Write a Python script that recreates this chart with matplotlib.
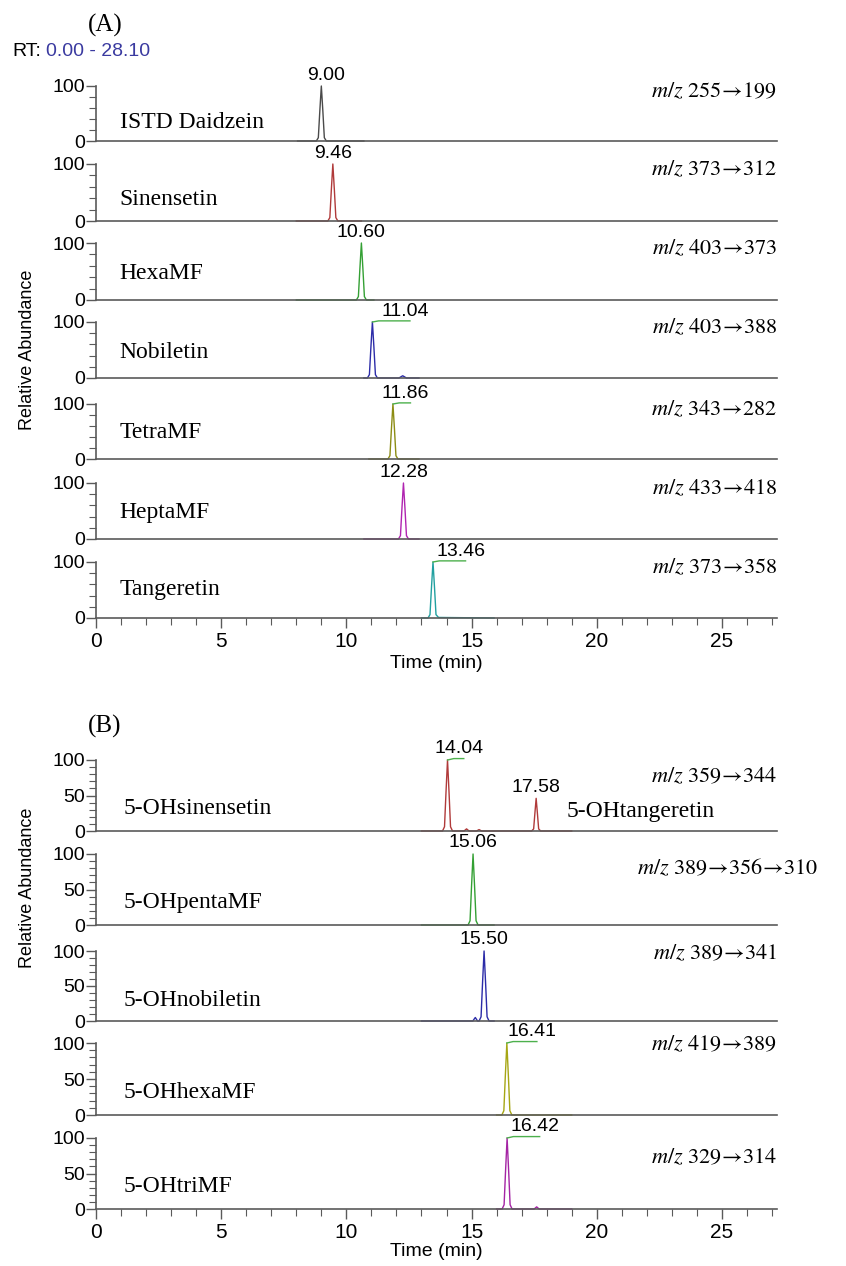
import matplotlib
matplotlib.use("Agg")
import matplotlib.pyplot as plt
from matplotlib.ticker import MultipleLocator, FixedLocator

plt.rcParams['font.family'] = ['Liberation Sans', 'DejaVu Sans']
plt.rcParams['mathtext.fontset'] = 'stix'

SERIF = ['Liberation Serif', 'DejaVu Serif']

# ---------------- panel A data (time in min, relative abundance %) ----------------
a_names = ["ISTD Daidzein", "Sinensetin", "HexaMF", "Nobiletin", "TetraMF", "HeptaMF", "Tangeretin"]
a_mz = [("255", "199"), ("373", "312"), ("403", "373"), ("403", "388"),
        ("343", "282"), ("433", "418"), ("373", "358")]
a_colors = ["#4a4a4a", "#b03a3a", "#34a034", "#2c2ca8", "#8c8c14", "#b024b0", "#22a0a0"]
a_rt = [9.00, 9.46, 10.60, 11.04, 11.86, 12.28, 13.46]
a_rt_labels = ["9.00", "9.46", "10.60", "11.04", "11.86", "12.28", "13.46"]
a_label_shift = [0.2, 0.0, 0.0, 1.3, 0.5, 0.0, 1.1]

a_time = [
    [8.05, 8.80, 8.88, 8.94, 9.00, 9.06, 9.12, 9.20, 10.70],
    [8.00, 9.26, 9.34, 9.40, 9.46, 9.52, 9.58, 9.66, 10.60],
    [8.00, 10.40, 10.48, 10.54, 10.60, 10.66, 10.72, 10.80, 11.10],
    [10.70, 10.84, 10.92, 10.98, 11.04, 11.10, 11.16, 11.24, 12.10, 12.25, 12.40, 12.90],
    [10.90, 11.66, 11.74, 11.80, 11.86, 11.92, 11.98, 12.06, 12.90],
    [10.70, 12.08, 12.16, 12.22, 12.28, 12.34, 12.40, 12.48, 12.90],
    [13.00, 13.26, 13.34, 13.40, 13.46, 13.52, 13.58, 13.68, 15.90],
]
a_abund = [
    [0, 0, 6, 55, 100, 55, 6, 0, 0],
    [0, 0, 6, 55, 100, 55, 6, 0, 0],
    [0, 0, 6, 55, 100, 55, 6, 0, 0],
    [0, 0, 6, 55, 100, 55, 6, 0, 0, 4, 0, 0],
    [0, 0, 6, 55, 100, 55, 6, 0, 0],
    [0, 0, 6, 55, 100, 55, 6, 0, 0],
    [0, 0, 6, 55, 100, 55, 6, 1, 0],
]

# ---------------- panel B data ----------------
b_names = ["5-OHsinensetin", "5-OHpentaMF", "5-OHnobiletin", "5-OHhexaMF", "5-OHtriMF"]
b_mz = [("359", "344"), ("389", "356", "310"), ("389", "341"), ("419", "389"), ("329", "314")]
b_colors = ["#b03a3a", "#34a034", "#2c2ca8", "#a6a614", "#a424a4"]
b_rt = [[14.04, 17.58], [15.06], [15.50], [16.41], [16.42]]
b_rt_labels = [["14.04", "17.58"], ["15.06"], ["15.50"], ["16.41"], ["16.42"]]
b_label_shift = [[0.45, 0.0], [0.0], [0.0], [1.0], [1.1]]
b_peak_height = [[100, 46], [100], [100], [100], [100]]

b_time = [
    [13.00, 13.84, 13.92, 13.98, 14.04, 14.10, 14.16, 14.24, 14.70, 14.80, 14.90,
     15.20, 15.30, 15.40, 17.40, 17.48, 17.53, 17.58, 17.63, 17.68, 17.76, 19.00],
    [13.00, 14.86, 14.94, 15.00, 15.06, 15.12, 15.18, 15.26, 15.90],
    [13.00, 15.05, 15.15, 15.24, 15.30, 15.38, 15.44, 15.50, 15.56, 15.62, 15.70, 15.90],
    [16.00, 16.21, 16.29, 16.35, 16.41, 16.47, 16.53, 16.61, 19.00],
    [16.00, 16.22, 16.30, 16.36, 16.42, 16.48, 16.54, 16.62, 17.50, 17.60, 17.70, 19.00],
]
b_abund = [
    [0, 0, 6, 55, 100, 55, 6, 0, 0, 3, 0, 0, 2, 0, 0, 3, 25, 46, 25, 3, 0, 0],
    [0, 0, 6, 55, 100, 55, 6, 0, 0],
    [0, 0, 5, 0, 0, 6, 55, 100, 55, 6, 0, 0],
    [0, 0, 6, 55, 100, 55, 6, 0, 0],
    [0, 0, 6, 55, 100, 55, 6, 0, 0, 3, 0, 0],
]

# pixel rows (y of 100 line, y of 0 line) in the 846x1266 picture
a_rows = [(86, 141), (164, 221), (243, 300), (322, 378), (404, 459), (483, 539), (562, 618)]
b_rows = [(760, 831), (854, 925), (951, 1021), (1043, 1115), (1138, 1209)]

W, H = 846, 1266
X0, X1 = 96, 777
XMAX = 27.2
SPINE = "#5a5a5a"


def mz_text(ions):
    # m/z transition written in Times-like mathtext
    body = r"\!\rightarrow\!".join(r"\mathrm{%s}" % s for s in ions)
    return r"$\mathit{m/z}\ " + body + "$"


def make_axes(fig, top, bottom):
    ax = fig.add_axes([X0 / W, 1 - bottom / H, (X1 - X0) / W, (bottom - top) / H])
    ax.set_xlim(0, XMAX)
    ax.set_ylim(0, 100)
    ax.patch.set_alpha(0)
    for s in ["top", "right"]:
        ax.spines[s].set_visible(False)
    for s in ["left", "bottom"]:
        ax.spines[s].set_color(SPINE)
        ax.spines[s].set_linewidth(1.2)
    ax.tick_params(axis="y", which="major", length=7, width=1.0, color=SPINE,
                   labelsize=14, pad=1)
    ax.tick_params(axis="y", which="minor", length=5, width=0.8, color=SPINE)
    ax.tick_params(axis="x", which="both", bottom=False, labelbottom=False)
    return ax


def peak_label(ax, x, y, text, shift):
    ax.text(x + shift, y + 4, text, ha="center", va="bottom", fontsize=14,
            clip_on=False)
    if shift > 0.3:
        # small green connector as drawn by the data system
        ax.plot([x, x + 0.25, x + shift + 0.2], [y, y + 2, y + 2],
                color="#4cb04c", lw=1.0, clip_on=False)


def finish_bottom(ax):
    ax.xaxis.set_major_locator(MultipleLocator(5))
    ax.xaxis.set_minor_locator(MultipleLocator(1))
    ax.tick_params(axis="x", which="major", bottom=True, labelbottom=True,
                   length=7, width=1.0, color=SPINE, labelsize=15, pad=3)
    ax.tick_params(axis="x", which="minor", bottom=True, length=5, width=0.8,
                   color=SPINE)


fig = plt.figure(figsize=(W / 100, H / 100), dpi=100)

# panel A
a_name_pos = [0.33, 0.37, 0.47, 0.45, 0.49, 0.48, 0.50]
for i in range(len(a_names)):
    top, bottom = a_rows[i]
    ax = make_axes(fig, top, bottom)
    ax.yaxis.set_major_locator(FixedLocator([0, 100]))
    ax.yaxis.set_minor_locator(MultipleLocator(20))
    ax.plot(a_time[i], a_abund[i], color=a_colors[i], lw=1.0, clip_on=False)
    peak_label(ax, a_rt[i], 100, a_rt_labels[i], a_label_shift[i])
    ax.text(0.035, a_name_pos[i], a_names[i], transform=ax.transAxes,
            family=SERIF, fontsize=17, va="center", ha="left")
    ax.text(1.0, 0.9, mz_text(a_mz[i]), transform=ax.transAxes,
            fontsize=16, va="center", ha="right")
    if i == len(a_names) - 1:
        finish_bottom(ax)
        ax.set_xlabel("Time (min)", fontsize=14, labelpad=3)

# panel B
b_name_pos = [0.32, 0.31, 0.30, 0.31, 0.31]
b_mz_pos = [(1.0, 0.76, "right"), (0.794, 0.80, "left"), (1.0, 0.96, "right"),
            (1.0, 0.98, "right"), (1.0, 0.72, "right")]
for i in range(len(b_names)):
    top, bottom = b_rows[i]
    ax = make_axes(fig, top, bottom)
    ax.yaxis.set_major_locator(FixedLocator([0, 50, 100]))
    ax.yaxis.set_minor_locator(MultipleLocator(10))
    ax.plot(b_time[i], b_abund[i], color=b_colors[i], lw=1.0, clip_on=False)
    for j in range(len(b_rt[i])):
        peak_label(ax, b_rt[i][j], b_peak_height[i][j], b_rt_labels[i][j],
                   b_label_shift[i][j])
    ax.text(0.04, b_name_pos[i], b_names[i], transform=ax.transAxes,
            family=SERIF, fontsize=17, va="center", ha="left")
    mx, my, mha = b_mz_pos[i]
    ax.text(mx, my, mz_text(b_mz[i]), transform=ax.transAxes,
            fontsize=16, va="center", ha=mha)
    if i == 0:
        ax.text(18.8, 27, "5-OHtangeretin", family=SERIF, fontsize=17,
                va="center", ha="left")
    if i == len(b_names) - 1:
        finish_bottom(ax)
        ax.set_xlabel("Time (min)", fontsize=14, labelpad=1)

# headers and y labels
fig.text(88 / W, 1 - 25 / H, "(A)", family=SERIF, fontsize=18, va="center", ha="left")
fig.text(12 / W, 1 - 51 / H, "RT:", fontsize=14, va="center", ha="left")
fig.text(46 / W, 1 - 51 / H, "0.00 - 28.10", fontsize=14, va="center", ha="left",
         color="#3a3aa0")
fig.text(88 / W, 1 - 726 / H, "(B)", family=SERIF, fontsize=18, va="center", ha="left")
fig.text(28 / W, 1 - 350 / H, "Relative Abundance", fontsize=13, rotation=90,
         va="center", ha="center")
fig.text(28 / W, 1 - 888 / H, "Relative Abundance", fontsize=13, rotation=90,
         va="center", ha="center")

plt.savefig("out.png", dpi=100)
plt.close()
